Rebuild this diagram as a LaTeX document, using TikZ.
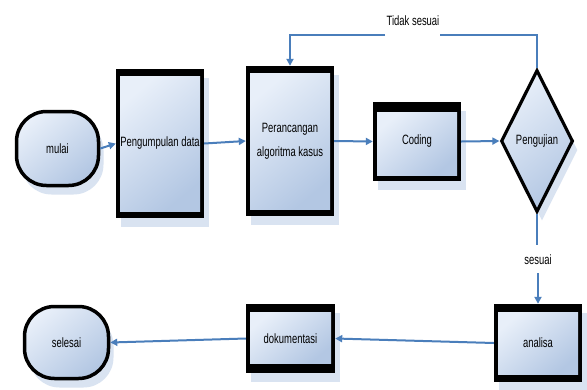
\documentclass[tikz,border=0pt]{standalone}
\usepackage{fontspec}
\setmainfont{Liberation Sans}[FakeStretch=0.7]
\usetikzlibrary{arrows.meta,shapes.geometric,shadows}
\definecolor{lightc}{HTML}{E8EFF9}
\definecolor{darkc}{HTML}{B3C7E3}
\definecolor{shadowc}{HTML}{D9E3F1}
\definecolor{linec}{HTML}{4A7EBB}
\tikzset{
  ft/.store in=\frametop, fb/.store in=\framebot, ft=7pt, fb=7pt,
  fillsh/.style={top color=lightc, bottom color=darkc, shading angle=40},
  shad/.style={general shadow={fill=shadowc, shadow xshift=5pt, shadow yshift=-9pt}},
  boxc/.style={rectangle, inner sep=0pt, align=center, shad,
    path picture={
      \fill[black] (path picture bounding box.south west) rectangle (path picture bounding box.north east);
      \shade[fillsh] ([xshift=4pt,yshift=-\frametop]path picture bounding box.north west)
        rectangle ([xshift=-4pt,yshift=\framebot]path picture bounding box.south east);
    }},
  termc/.style={rectangle, rounded corners=30pt, draw=black, line width=3.5pt, fillsh, shad, inner sep=0pt},
  decc/.style={diamond, aspect=0.5, draw=black, line width=3.2pt, fillsh, shad, inner sep=0pt},
  conn/.style={draw=linec, line width=2pt},
  arr/.style={conn, -{Triangle[length=7pt,width=7pt]}},
  lbl/.style={font=\fontsize{13.5}{15}\selectfont, inner sep=1pt}
}
\begin{document}
\begin{tikzpicture}[x=1pt,y=-1pt, font=\fontsize{13.5}{24}\selectfont]
\useasboundingbox[fill=white] (0,0) rectangle (587,389);

\node[termc, minimum width=82pt, minimum height=74pt] (mulai) at (57.5,148.5) {mulai};
\node[boxc, minimum width=88pt, minimum height=149pt] (peng) at (160,143.5) {Pengumpulan data};
\node[boxc, minimum width=88pt, minimum height=150pt] (peran) at (290,141) {Perancangan\\algoritma kasus};
\node[boxc, ft=10pt, fb=6pt, minimum width=88pt, minimum height=79pt] (coding) at (417,141.5) {Coding};
\node[decc, minimum width=72pt, minimum height=142pt] (uji) at (537,141) {Pengujian};
\node[boxc, ft=8pt, fb=8pt, minimum width=88pt, minimum height=78pt] (analisa) at (538,343) {analisa};
\node[boxc, ft=8pt, fb=10pt, minimum width=89pt, minimum height=69pt] (dokum) at (290.5,338.5) {dokumentasi};
\node[termc, minimum width=84pt, minimum height=72pt] (selesai) at (66.5,342.5) {selesai};

\coordinate (fbR) at (440,35);
\coordinate (fbL) at (385,35);
\coordinate (sesA) at (537,245);
\coordinate (sesB) at (538,273);

\node[lbl] (tidak) at (413,21) {Tidak sesuai};
\node[lbl] (sesuai) at (538,260) {sesuai};

\draw[arr] (mulai.east) -- (peng.west);
\draw[arr] (peng.east) -- (peran.west);
\draw[arr] (peran.east) -- (coding.west);
\draw[arr] (coding.east) -- (uji.west);
\draw[conn] (uji.north) |- (fbR);
\draw[arr] (fbL) -| (peran.north);
\draw[conn] (uji.south) -- (sesA);
\draw[arr] (sesB) -- (analisa.north);
\draw[arr] (analisa.west) -- (dokum.east);
\draw[arr] (dokum.west) -- (selesai.east);
\end{tikzpicture}
\end{document}
